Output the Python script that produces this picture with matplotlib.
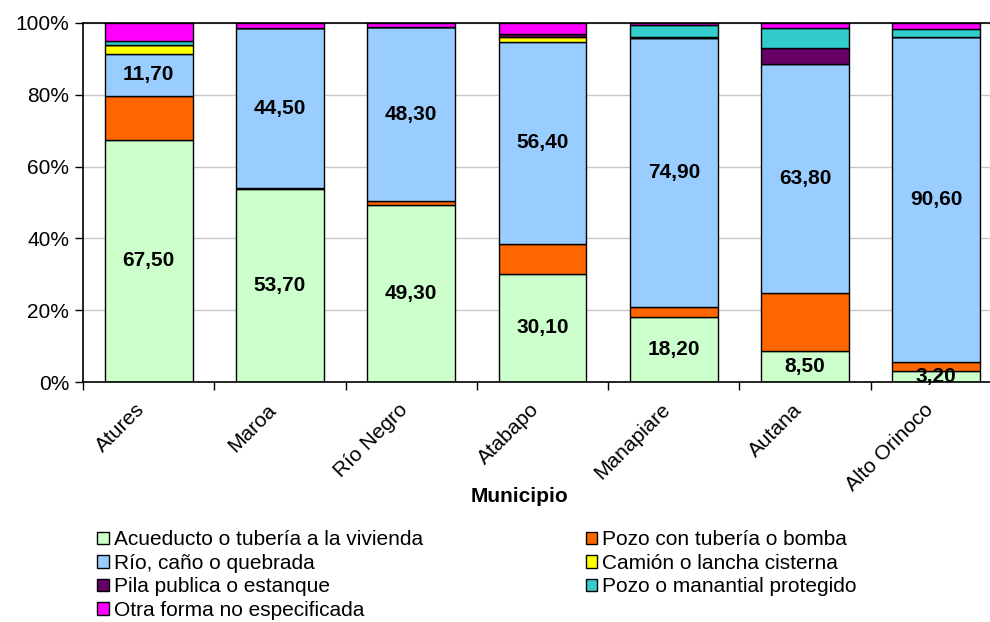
import numpy as np
import matplotlib.pyplot as plt

plt.rcParams['font.family'] = ['Liberation Sans', 'DejaVu Sans']

municipios = ['Atures', 'Maroa', 'Río Negro', 'Atabapo', 'Manapiare', 'Autana', 'Alto Orinoco']

acueducto = [67.5, 53.7, 49.3, 30.1, 18.2, 8.5, 3.2]
pozo_tuberia = [12.2, 0.3, 1.2, 8.3, 2.6, 16.4, 2.3]
rio = [11.7, 44.5, 48.3, 56.4, 74.9, 63.8, 90.6]
camion = [2.6, 0.0, 0.0, 1.4, 0.0, 0.0, 0.0]
pila = [0.0, 0.0, 0.0, 0.7, 0.4, 4.2, 0.0]
manantial = [1.0, 0.0, 0.0, 0.0, 3.4, 5.8, 2.3]
otra = [5.0, 1.5, 1.2, 3.1, 0.5, 1.3, 1.6]

series = [
    ('Acueducto o tubería a la vivienda', acueducto, '#CCFFCC'),
    ('Pozo con tubería o bomba', pozo_tuberia, '#FF6600'),
    ('Río, caño o quebrada', rio, '#99CCFF'),
    ('Camión o lancha cisterna', camion, '#FFFF00'),
    ('Pila publica o estanque', pila, '#660066'),
    ('Pozo o manantial protegido', manantial, '#33CCCC'),
    ('Otra forma no especificada', otra, '#FF00FF'),
]
# series with value labels inside the bars
etiquetadas = ['Acueducto o tubería a la vivienda', 'Río, caño o quebrada']

fs = 15

fig = plt.figure(figsize=(9.9, 6.22), dpi=100)
ax = fig.add_axes([83/990, 240/622, 919/990, 359/622])

x = np.arange(len(municipios))
totales = np.sum([s[1] for s in series], axis=0)
base = np.zeros(len(municipios))
barras = {}
for nombre, valores, color in series:
    pct = np.array(valores) / totales * 100
    b = ax.bar(x, pct, 0.67, bottom=base, color=color, edgecolor='black',
               linewidth=1.0, label=nombre, zorder=2)
    barras[nombre] = b
    if nombre in etiquetadas:
        for xi, yb, h, v in zip(x, base, pct, valores):
            ax.text(xi, yb + h / 2, f'{v:.2f}'.replace('.', ','), ha='center',
                    va='center', fontsize=fs, fontweight='bold', zorder=3)
    base += pct

ax.set_xlim(-0.5, len(municipios) - 0.5)
ax.set_ylim(0, 100)
ax.set_yticks(np.arange(0, 101, 20))
ax.set_yticklabels([f'{v}%' for v in range(0, 101, 20)], fontsize=fs)
ax.yaxis.grid(True, color='#C8C8C8', linewidth=1, zorder=0)
ax.set_axisbelow(True)
ax.tick_params(axis='y', direction='out', length=6, width=1, pad=4)

# labels a little left of the bar centres, rotated
ax.set_xticks(x - 0.1)
ax.set_xticklabels(municipios, rotation=45, ha='right', rotation_mode='anchor', fontsize=fs)
ax.set_xticks(np.arange(-0.5, len(municipios), 1), minor=True)
ax.tick_params(axis='x', which='major', length=0, pad=13)
ax.tick_params(axis='x', which='minor', direction='out', length=6, width=1)

for lado in ['left', 'bottom', 'top']:
    ax.spines[lado].set_linewidth(1.2)
ax.spines['right'].set_visible(False)

fig.text(519/990, 1 - 497/622, 'Municipio', ha='center', va='center',
         fontsize=fs, fontweight='bold')

orden = ['Acueducto o tubería a la vivienda', 'Río, caño o quebrada',
         'Pila publica o estanque', 'Otra forma no especificada',
         'Pozo con tubería o bomba', 'Camión o lancha cisterna',
         'Pozo o manantial protegido']
fig.legend([barras[n] for n in orden], orden, ncol=2, loc='upper left',
           bbox_to_anchor=(89/990, 1 - 522/622), frameon=False, fontsize=fs,
           handlelength=0.55, handleheight=0.55, handletextpad=0.25,
           labelspacing=0.22, columnspacing=7.8, borderaxespad=0)

fig.savefig('out.png', dpi=100)
